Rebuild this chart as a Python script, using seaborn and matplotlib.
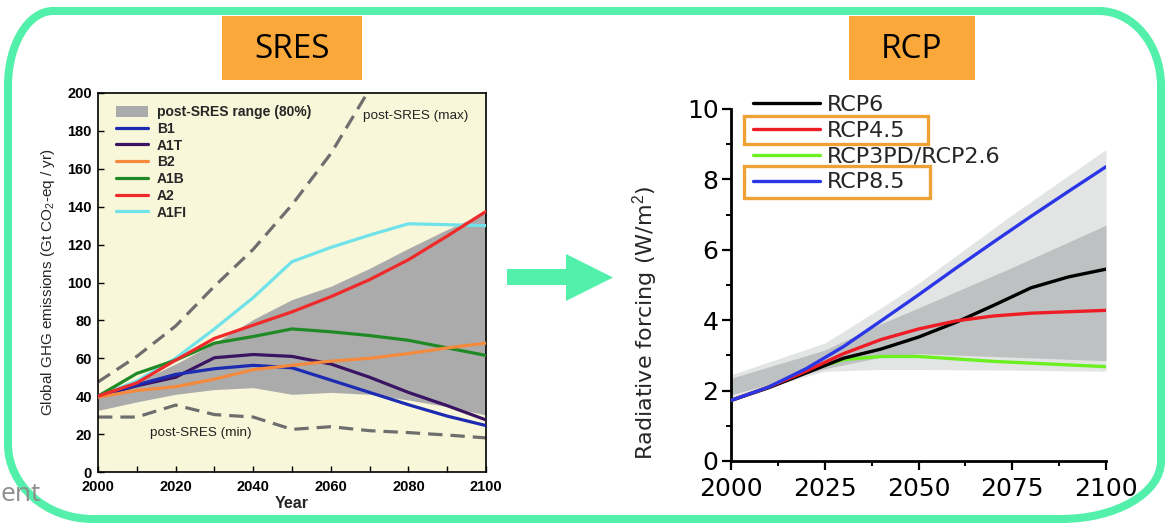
import matplotlib
matplotlib.use("Agg")
import numpy as np
import pandas as pd
import matplotlib.pyplot as plt
import seaborn as sns
from matplotlib import font_manager
from matplotlib.path import Path
from matplotlib.patches import PathPatch, Rectangle, Polygon, Patch

# ---------------- data ----------------
# SRES emission scenarios (Gt CO2-eq / yr)
sres_years = [2000, 2010, 2020, 2030, 2040, 2050, 2060, 2070, 2080, 2090, 2100]
b1 = [40, 46, 51.5, 54.5, 56.3, 55, 48.5, 42, 35.5, 29.5, 24.5]
a1t = [40, 45.5, 50, 60.3, 62, 61, 57, 50, 42, 35, 27.5]
b2 = [39.5, 43, 45, 49, 54, 56.3, 58.5, 60, 62.5, 65.5, 68]
a1b = [40, 52, 59, 68, 71.5, 75.5, 74, 72, 69.5, 65.5, 61.5]
a2 = [40, 47, 59, 70.5, 77.5, 84.5, 92.5, 101.5, 112, 124.5, 137.5]
a1fi = [40, 48, 60, 75.5, 92, 111, 118.5, 125, 131, 130.5, 130]
range_lo = [32.5, 37, 41, 43.5, 44.5, 41, 42, 41, 38, 34.5, 30]
range_hi = [41, 47.5, 57, 68, 80.5, 91, 98, 107.5, 118, 128, 137]
max_years = [2000, 2010, 2020, 2030, 2040, 2050, 2060, 2070]
post_max = [47.5, 61, 77, 98, 117.5, 141, 168, 202]
post_min = [29, 29, 35.3, 30.3, 29, 22.5, 23.9, 21.8, 20.8, 19.5, 18]

sres_names = ["B1", "A1T", "B2", "A1B", "A2", "A1FI"]
sres_colors = ["#1d2bb3", "#3a1462", "#f5893c", "#1f8a25", "#ef2a2a", "#6fe2ea"]
sres_xticks = [2000, 2020, 2040, 2060, 2080, 2100]
sres_yticks = [0, 20, 40, 60, 80, 100, 120, 140, 160, 180, 200]

# RCP radiative forcing pathways (W/m2)
rcp_years = [2000, 2010, 2020, 2030, 2040, 2050, 2060, 2070, 2080, 2090, 2100]
rcp6 = [1.72, 2.08, 2.5, 2.92, 3.18, 3.52, 3.94, 4.42, 4.92, 5.23, 5.45]
rcp45 = [1.72, 2.1, 2.55, 3.05, 3.45, 3.75, 3.98, 4.12, 4.2, 4.24, 4.28]
rcp26 = [1.72, 2.1, 2.55, 2.88, 2.97, 2.97, 2.9, 2.83, 2.78, 2.73, 2.68]
rcp85 = [1.72, 2.1, 2.62, 3.25, 3.98, 4.72, 5.48, 6.22, 6.95, 7.66, 8.36]
band_years = [2000, 2025, 2040, 2050, 2075, 2100]
outer_lo = [1.8, 2.55, 2.6, 2.6, 2.58, 2.55]
outer_hi = [2.45, 3.35, 4.35, 5.05, 7.0, 8.85]
inner_lo = [1.88, 2.62, 2.95, 3.05, 2.95, 2.85]
inner_hi = [2.35, 3.15, 3.9, 4.35, 5.5, 6.7]

rcp_names = ["RCP6", "RCP4.5", "RCP3PD/RCP2.6", "RCP8.5"]
rcp_colors = ["#000000", "#ee1d25", "#6cf022", "#2b36e6"]
rcp_xticks = [2000, 2025, 2050, 2075, 2100]
rcp_yticks = [0, 2, 4, 6, 8, 10]

# ---------------- style ----------------
sns.set_theme(style="ticks")
plt.rcParams["font.family"] = ["Liberation Sans", "DejaVu Sans"]
plt.rcParams["mathtext.fontset"] = "custom"
plt.rcParams["mathtext.rm"] = "Liberation Sans"
plt.rcParams["mathtext.it"] = "Liberation Sans:italic"

installed = {f.name for f in font_manager.fontManager.ttflist}
header_font = "Liberation Sans Narrow" if "Liberation Sans Narrow" in installed else "Open Sans"

W, H = 1166, 524
fig = plt.figure(figsize=(W / 100, H / 100), dpi=100)
fig.patch.set_facecolor("white")

GREEN = "#52f0aa"
ORANGE = "#faa83a"

# ---------------- page decorations (pixel coordinates) ----------------
deco = fig.add_axes([0, 0, 1, 1], zorder=0)
deco.set_xlim(0, W)
deco.set_ylim(H, 0)
deco.axis("off")


def rounded_frame(x0, y0, x1, y1, tl, tr, br, bl):
    k = 0.5523
    verts = [
        (x0 + tl[0], y0), (x1 - tr[0], y0),
        (x1 - tr[0] + k * tr[0], y0), (x1, y0 + tr[1] - k * tr[1]), (x1, y0 + tr[1]),
        (x1, y1 - br[1]),
        (x1, y1 - br[1] + k * br[1]), (x1 - br[0] + k * br[0], y1), (x1 - br[0], y1),
        (x0 + bl[0], y1),
        (x0 + bl[0] - k * bl[0], y1), (x0, y1 - bl[1] + k * bl[1]), (x0, y1 - bl[1]),
        (x0, y0 + tl[1]),
        (x0, y0 + tl[1] - k * tl[1]), (x0 + tl[0] - k * tl[0], y0), (x0 + tl[0], y0),
        (x0 + tl[0], y0),
    ]
    codes = [Path.MOVETO, Path.LINETO,
             Path.CURVE4, Path.CURVE4, Path.CURVE4,
             Path.LINETO,
             Path.CURVE4, Path.CURVE4, Path.CURVE4,
             Path.LINETO,
             Path.CURVE4, Path.CURVE4, Path.CURVE4,
             Path.LINETO,
             Path.CURVE4, Path.CURVE4, Path.CURVE4,
             Path.CLOSEPOLY]
    return Path(verts, codes)


deco.text(41, 501, "ent", ha="right", va="baseline", fontsize=19,
          color="#8e8e8e", family="Open Sans")
deco.add_patch(PathPatch(rounded_frame(8, 11, 1161, 519,
                                       (45, 75), (62, 75), (100, 58), (85, 75)),
                         facecolor="none", edgecolor=GREEN, lw=5.8))

# section headers
deco.add_patch(Rectangle((222, 16), 140, 64, facecolor=ORANGE, edgecolor="none"))
deco.text(292, 49, "SRES", ha="center", va="center", fontsize=24,
          family=header_font, color="black")
deco.add_patch(Rectangle((849, 16), 126, 64, facecolor=ORANGE, edgecolor="none"))
deco.text(912, 49, "RCP", ha="center", va="center", fontsize=24,
          family=header_font, color="black")

# arrow between the panels
deco.add_patch(Polygon([(507, 269), (566, 269), (566, 254), (613, 277.5),
                        (566, 301), (566, 285), (507, 285)],
                       closed=True, facecolor=GREEN, edgecolor="none"))

# ---------------- left panel: SRES emissions ----------------
axL = fig.add_axes([98 / W, 1 - 472 / H, 388 / W, 379 / H], zorder=2)
axL.set_facecolor("#f9f7d9")

axL.fill_between(sres_years, range_lo, range_hi, color="#ababab", lw=0, zorder=1)
band_handle = Patch(facecolor="#ababab", edgecolor="none")

sns.lineplot(x=max_years, y=post_max, ax=axL, color="#6e6e6e", lw=2.3,
             linestyle=(0, (4.5, 2.5)), zorder=2)
sns.lineplot(x=sres_years, y=post_min, ax=axL, color="#6e6e6e", lw=2.3,
             linestyle=(0, (4.5, 2.5)), zorder=2)

sres_df = pd.DataFrame({"year": sres_years, "B1": b1, "A1T": a1t, "B2": b2,
                        "A1B": a1b, "A2": a2, "A1FI": a1fi})
sres_long = sres_df.melt(id_vars="year", var_name="scenario", value_name="emissions")
sres_palette = dict(zip(sres_names, sres_colors))
handles = {}
for name in ["A1FI", "A1B", "A1T", "B1", "B2", "A2"]:
    sub = sres_long[sres_long["scenario"] == name]
    sns.lineplot(data=sub, x="year", y="emissions", ax=axL, color=sres_palette[name],
                 lw=2.3, label=name, zorder=3, legend=False)
    handles[name] = axL.get_lines()[-1]

axL.set_xlim(2000, 2100)
axL.set_ylim(0, 200)
axL.set_xticks(sres_xticks)
axL.set_xticklabels([str(t) for t in sres_xticks], fontweight="bold", fontsize=10.5)
axL.set_xticks(np.arange(2000, 2101, 10), minor=True)
axL.set_yticks(sres_yticks)
axL.set_yticklabels([str(t) for t in sres_yticks], fontweight="bold", fontsize=10.5)
axL.tick_params(which="both", direction="in", length=4.5, width=1, colors="black",
                top=False, right=False)
axL.tick_params(axis="x", which="major", pad=6)
axL.tick_params(axis="y", which="major", pad=4.5)
for sp in axL.spines.values():
    sp.set_visible(True)
    sp.set_color("black")
    sp.set_linewidth(1.2)

axL.set_xlabel("Year", fontweight="bold", fontsize=11.5)
axL.xaxis.set_label_coords(0.5, -0.063)
axL.set_ylabel("Global GHG emissions (Gt CO$_2$-eq / yr)", fontsize=11)
axL.yaxis.set_label_coords(-0.106, 0.5)

axL.text(2068.3, 188, "post-SRES (max)", fontsize=9.7, va="center", color="#222222")
axL.text(2013.4, 20.7, "post-SRES (min)", fontsize=9.7, va="center", color="#222222")

leg_l = axL.legend([band_handle] + [handles[n] for n in sres_names],
                   ["post-SRES range (80%)"] + sres_names,
                   loc="upper left", bbox_to_anchor=(116 / W, 1 - 105 / H),
                   bbox_transform=fig.transFigure, frameon=False,
                   prop={"weight": "bold", "size": 10}, handlelength=2.3,
                   handleheight=0.85, handletextpad=0.65, labelspacing=0.2,
                   borderpad=0, borderaxespad=0)

# ---------------- right panel: RCP radiative forcing ----------------
axR = fig.add_axes([731 / W, 1 - 461 / H, 375 / W, 352 / H], zorder=2)
axR.set_facecolor("none")

axR.fill_between(band_years, outer_lo, outer_hi, color="#e3e5e5", lw=0, zorder=1)
axR.fill_between(band_years, inner_lo, inner_hi, color="#bdc1c1", lw=0, zorder=1)

rcp_df = pd.DataFrame({"year": rcp_years, "RCP6": rcp6, "RCP4.5": rcp45,
                       "RCP3PD/RCP2.6": rcp26, "RCP8.5": rcp85})
rcp_long = rcp_df.melt(id_vars="year", var_name="pathway", value_name="forcing")
rcp_palette = dict(zip(rcp_names, rcp_colors))
rhandles = {}
for name in ["RCP3PD/RCP2.6", "RCP6", "RCP4.5", "RCP8.5"]:
    sub = rcp_long[rcp_long["pathway"] == name]
    sns.lineplot(data=sub, x="year", y="forcing", ax=axR, color=rcp_palette[name],
                 lw=2.4, label=name, zorder=3, legend=False)
    rhandles[name] = axR.get_lines()[-1]

sns.despine(ax=axR)
axR.set_xlim(2000, 2100)
axR.set_ylim(0, 10)
for side in ["left", "bottom"]:
    axR.spines[side].set_color("black")
    axR.spines[side].set_linewidth(2)
axR.set_xticks(rcp_xticks)
axR.set_xticklabels([str(t) for t in rcp_xticks], fontsize=18, family="DejaVu Sans")
axR.set_xticks(np.arange(2000, 2101, 12.5), minor=True)
axR.set_yticks(rcp_yticks)
axR.set_yticklabels([str(t) for t in rcp_yticks], fontsize=18, family="DejaVu Sans")
axR.set_yticks(np.arange(1, 10, 2), minor=True)
axR.tick_params(which="major", direction="out", length=6.5, width=1.6, colors="black")
axR.tick_params(which="minor", direction="out", length=3.5, width=1.4, colors="black")
axR.tick_params(axis="x", which="major", pad=5)
axR.tick_params(axis="y", which="major", pad=2.5)
axR.set_xlabel("")
axR.set_ylabel("Radiative forcing (W/m$^2$)", fontsize=16, family="DejaVu Sans")
axR.yaxis.set_label_coords(-0.19, 0.393)

leg_r = axR.legend([rhandles[n] for n in rcp_names], rcp_names,
                   loc="upper left", bbox_to_anchor=(753 / W, 1 - 95 / H),
                   bbox_transform=fig.transFigure, frameon=False,
                   prop={"family": "DejaVu Sans", "size": 16}, handlelength=3.0,
                   handletextpad=0.32, labelspacing=0.26, borderpad=0, borderaxespad=0)

# highlight boxes around two legend entries
for (x0, y0, x1, y1) in [(744, 116, 928, 144), (744, 166, 930, 198)]:
    fig.add_artist(Rectangle((x0 / W, 1 - y1 / H), (x1 - x0) / W, (y1 - y0) / H,
                             transform=fig.transFigure, facecolor="none",
                             edgecolor="#eea236", lw=2.4, zorder=5))

fig.savefig("out.png", dpi=100)
